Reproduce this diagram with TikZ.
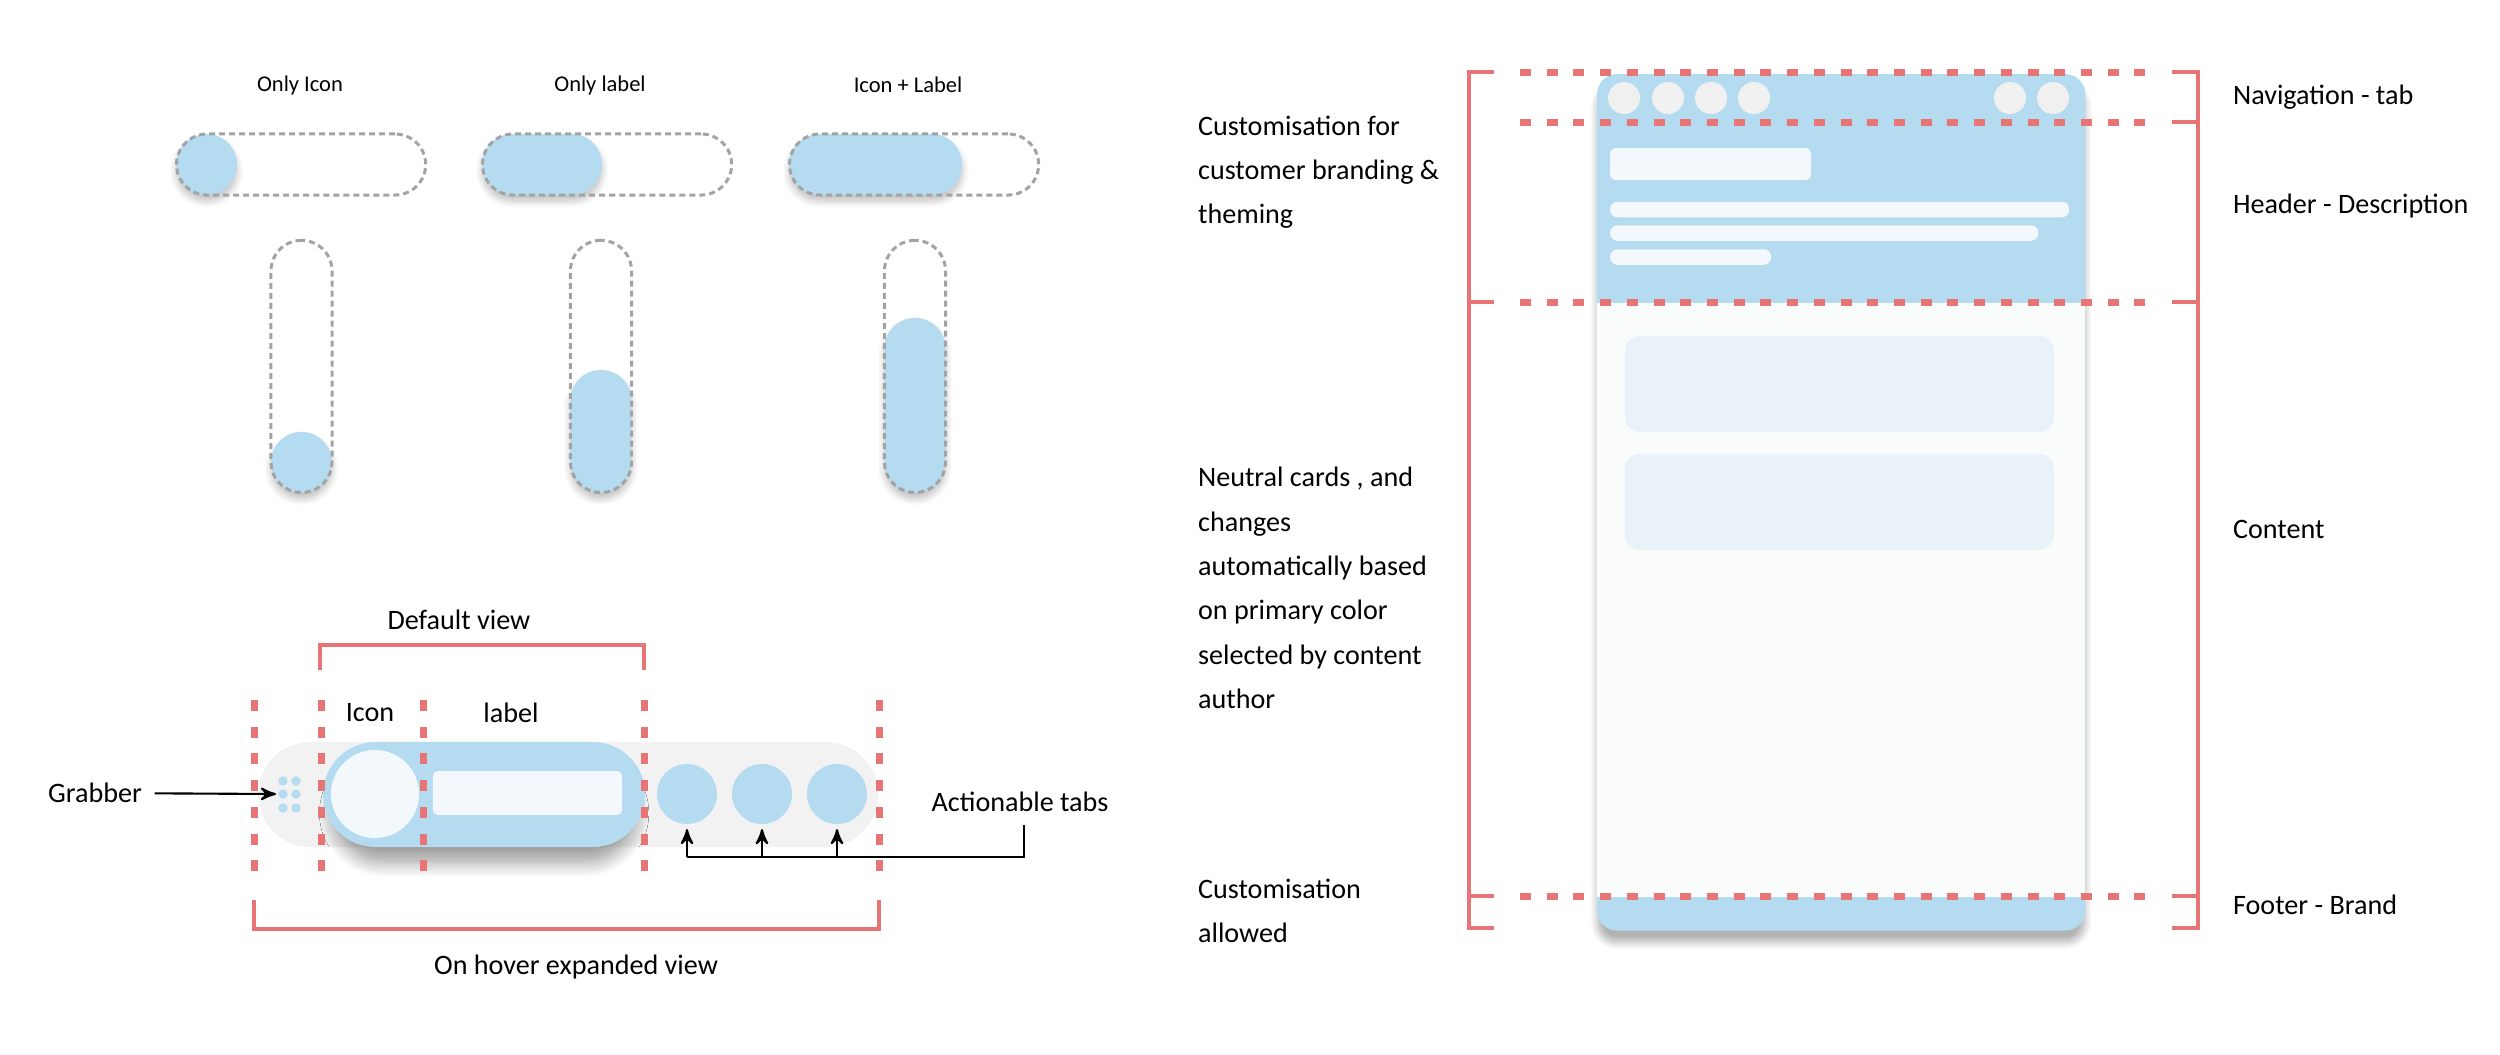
\documentclass[tikz,border=0pt]{standalone}
\usepackage{fontspec}
\setmainfont{Carlito}
\usepackage{tikz}
\usetikzlibrary{arrows,positioning,shadows.blur}

\definecolor{tabblue}{HTML}{B5DBF1}
\definecolor{paleblue}{HTML}{F2F8FC}
\definecolor{cardblue}{HTML}{EAF2F9}
\definecolor{railgray}{HTML}{F2F2F2}
\definecolor{navgray}{HTML}{F0F0F0}
\definecolor{pagebg}{HTML}{FAFBFB}
\definecolor{guidered}{HTML}{E87575}
\definecolor{outlinegray}{HTML}{A3A3A3}

\begin{document}
\begin{tikzpicture}[x=0.01cm, y=-0.01cm, >=stealth', semithick, font=\fontsize{8}{12.6}\selectfont]
  % Define styles
  \tikzstyle{lbl}=[inner sep=2pt, align=left]
  \tikzstyle{title}=[inner sep=2pt, font=\fontsize{6.4}{8}\selectfont]
  \tikzstyle{outline}=[draw=outlinegray, line width=0.03cm, dash pattern=on 0.06cm off 0.04cm, rounded corners=0.305cm, minimum width=0.61cm, minimum height=0.61cm, inner sep=0pt]
  \tikzstyle{fillpill}=[fill=tabblue, rounded corners=0.305cm, minimum width=0.61cm, minimum height=0.61cm, inner sep=0pt, blur shadow={shadow xshift=0pt, shadow yshift=-0.06cm, shadow opacity=25, shadow blur steps=6}]
  \tikzstyle{guide}=[draw=guidered, line width=0.07cm, dash pattern=on 0.11cm off 0.157cm]
  \tikzstyle{brace}=[draw=guidered, line width=0.035cm]
  \tikzstyle{grip}=[circle, fill=tabblue, inner sep=0pt, minimum size=0.095cm]
  \tikzstyle{tab}=[circle, fill=tabblue, inner sep=0pt, minimum size=0.6cm]
  \tikzstyle{navbtn}=[circle, fill=navgray, inner sep=0pt, minimum size=0.32cm]
  \tikzstyle{bar}=[fill=paleblue, rounded corners=0.075cm, inner sep=0pt, minimum height=0.155cm, anchor=west]
  \tikzstyle{card}=[fill=cardblue, rounded corners=0.15cm, inner sep=0pt, minimum width=4.29cm, minimum height=0.96cm]

  \useasboundingbox (0,0) rectangle (2500,1054);

  % Titles
  \node[title] (onlyicon)  at (300,85) {Only Icon};
  \node[title] (onlylabel) at (600,85) {Only label};
  \node[title] (iconlabel) at (908,85) {Icon + Label};

  % Horizontal toggles
  \node[fillpill, anchor=west]                      (hfill1) at (175,164.5) {};
  \node[outline, minimum width=2.49cm, anchor=west] (hbox1)  at (175,164.5) {};
  \node[fillpill, minimum width=1.20cm, anchor=west] (hfill2) at (481,164.5) {};
  \node[outline, minimum width=2.49cm, anchor=west] (hbox2)  at (481,164.5) {};
  \node[fillpill, minimum width=1.73cm, anchor=west] (hfill3) at (788,164.5) {};
  \node[outline, minimum width=2.49cm, anchor=west] (hbox3)  at (788,164.5) {};

  % Vertical toggles
  \node[fillpill, anchor=south]                       (vfill1) at (301.5,494) {};
  \node[outline, minimum height=2.52cm, anchor=south] (vbox1)  at (301.5,494) {};
  \node[fillpill, minimum height=1.23cm, anchor=south] (vfill2) at (601,494) {};
  \node[outline, minimum height=2.52cm, anchor=south] (vbox2)  at (601,494) {};
  \node[fillpill, minimum height=1.75cm, anchor=south] (vfill3) at (915,494) {};
  \node[outline, minimum height=2.52cm, anchor=south] (vbox3)  at (915,494) {};

  % Expanded bar
  \node[fill=railgray, rounded corners=0.525cm, minimum width=6.20cm, minimum height=1.05cm, inner sep=0pt, anchor=west] (rail) at (257,794.5) {};
  \node[fillpill, rounded corners=0.525cm, minimum width=3.22cm, minimum height=1.05cm, anchor=west,
        blur shadow={shadow xshift=0pt, shadow yshift=-0.2cm, shadow scale=0.93, shadow opacity=22, shadow blur radius=0.16cm, shadow blur steps=10}] (bluebar) at (322,794.5) {};
  \node[circle, fill=paleblue, minimum size=0.88cm, inner sep=0pt] (iconslot) at (375,794) {};
  \node[fill=paleblue, rounded corners=0.05cm, minimum width=1.89cm, minimum height=0.44cm, inner sep=0pt] (labelslot) at (527.5,793) {};
  \foreach \x/\n in {687/1,762/2,837/3}
    \node[tab] (tab\n) at (\x,794) {};
  \foreach \x in {283,296}
    \foreach \y in {781,794,808}
      \node[grip] (grip-\x-\y) at (\x,\y) {};
  \foreach \x in {254,321,423,644,879}
    \draw[guide] (\x,700) -- (\x,887);

  \node (defview)   at (459,620) {Default view};
  \node (iconlbl)   at (370,713) {Icon};
  \node (labellbl)  at (511,713) {label};
  \node (hoverview) at (576,967) {On hover expanded view};
  \draw[brace] (320,670) -- (320,645) -- (644,645) -- (644,670);
  \draw[brace] (254,900) -- (254,929) -- (879,929) -- (879,900);

  \node (grabber) at (95,793) {Grabber};
  \coordinate (griptip) at (276,794);
  \draw[->] (grabber) -- (griptip);

  \node (acttabs) at (1020,802) {Actionable tabs};
  \coordinate (tabbus) at (1024,857);
  \draw (acttabs.south -| tabbus) -- (tabbus) -- (tabbus -| tab1);
  \foreach \n in {1,2,3}
    \draw[->] (tabbus -| tab\n) -- ([yshift=-0.04cm]tab\n.south);

  % Page layout
  \node[fill=tabblue, rounded corners=0.2cm, minimum width=4.88cm, minimum height=8.56cm, inner sep=0pt, anchor=north west,
        blur shadow={shadow xshift=0pt, shadow yshift=-0.12cm, shadow opacity=30, shadow blur steps=8}] (phone) at (1596,73) {};
  \node[fill=pagebg, minimum width=4.88cm, minimum height=5.94cm, inner sep=0pt, anchor=north west] (content) at (1596,302) {};
  \foreach \x/\n in {1624/1,1668/2,1711/3,1754/4,2010/5,2053/6}
    \node[navbtn] (nav\n) at (\x,98) {};
  \node[fill=paleblue, rounded corners=0.06cm, minimum width=2.01cm, minimum height=0.32cm, inner sep=0pt, anchor=north west] (headtitle) at (1609,147) {};
  \node[bar, minimum width=4.59cm] (desc1) at (1609,209.5) {};
  \node[bar, minimum width=4.28cm] (desc2) at (1609,233) {};
  \node[bar, minimum width=1.61cm] (desc3) at (1609,257) {};
  \node[card] (card1) at (1839.5,384) {};
  \node[card] (card2) at (1839.5,502) {};

  \foreach \y in {72,122,302,896}
    \draw[guide] (1520,\y) -- (2159,\y);
  \draw[brace] (1494,72) -- (1469,72) -- (1469,928) -- (1494,928);
  \foreach \y in {302,896}
    \draw[brace] (1469,\y) -- (1494,\y);
  \draw[brace] (2172,72) -- (2198,72) -- (2198,928) -- (2172,928);
  \foreach \y in {122,302,896}
    \draw[brace] (2172,\y) -- (2198,\y);

  \node[lbl, anchor=west] (navtab)   at (2225,97)  {Navigation - tab};
  \node[lbl, anchor=west] (headdesc) at (2225,206) {Header - Description};
  \node[lbl, anchor=west] (contlbl)  at (2225,529) {Content};
  \node[lbl, anchor=west] (footlbl)  at (2225,905) {Footer - Brand};

  \node[lbl, anchor=west] (brandnote)   at (1190,172) {Customisation for\\customer branding \&\\theming};
  \node[lbl, anchor=west] (neutralnote) at (1190,588) {Neutral cards , and\\changes\\automatically based\\on primary color\\selected by content\\author};
  \node[lbl, anchor=west] (footnote)    at (1190,911) {Customisation\\allowed};
\end{tikzpicture}
\end{document}
